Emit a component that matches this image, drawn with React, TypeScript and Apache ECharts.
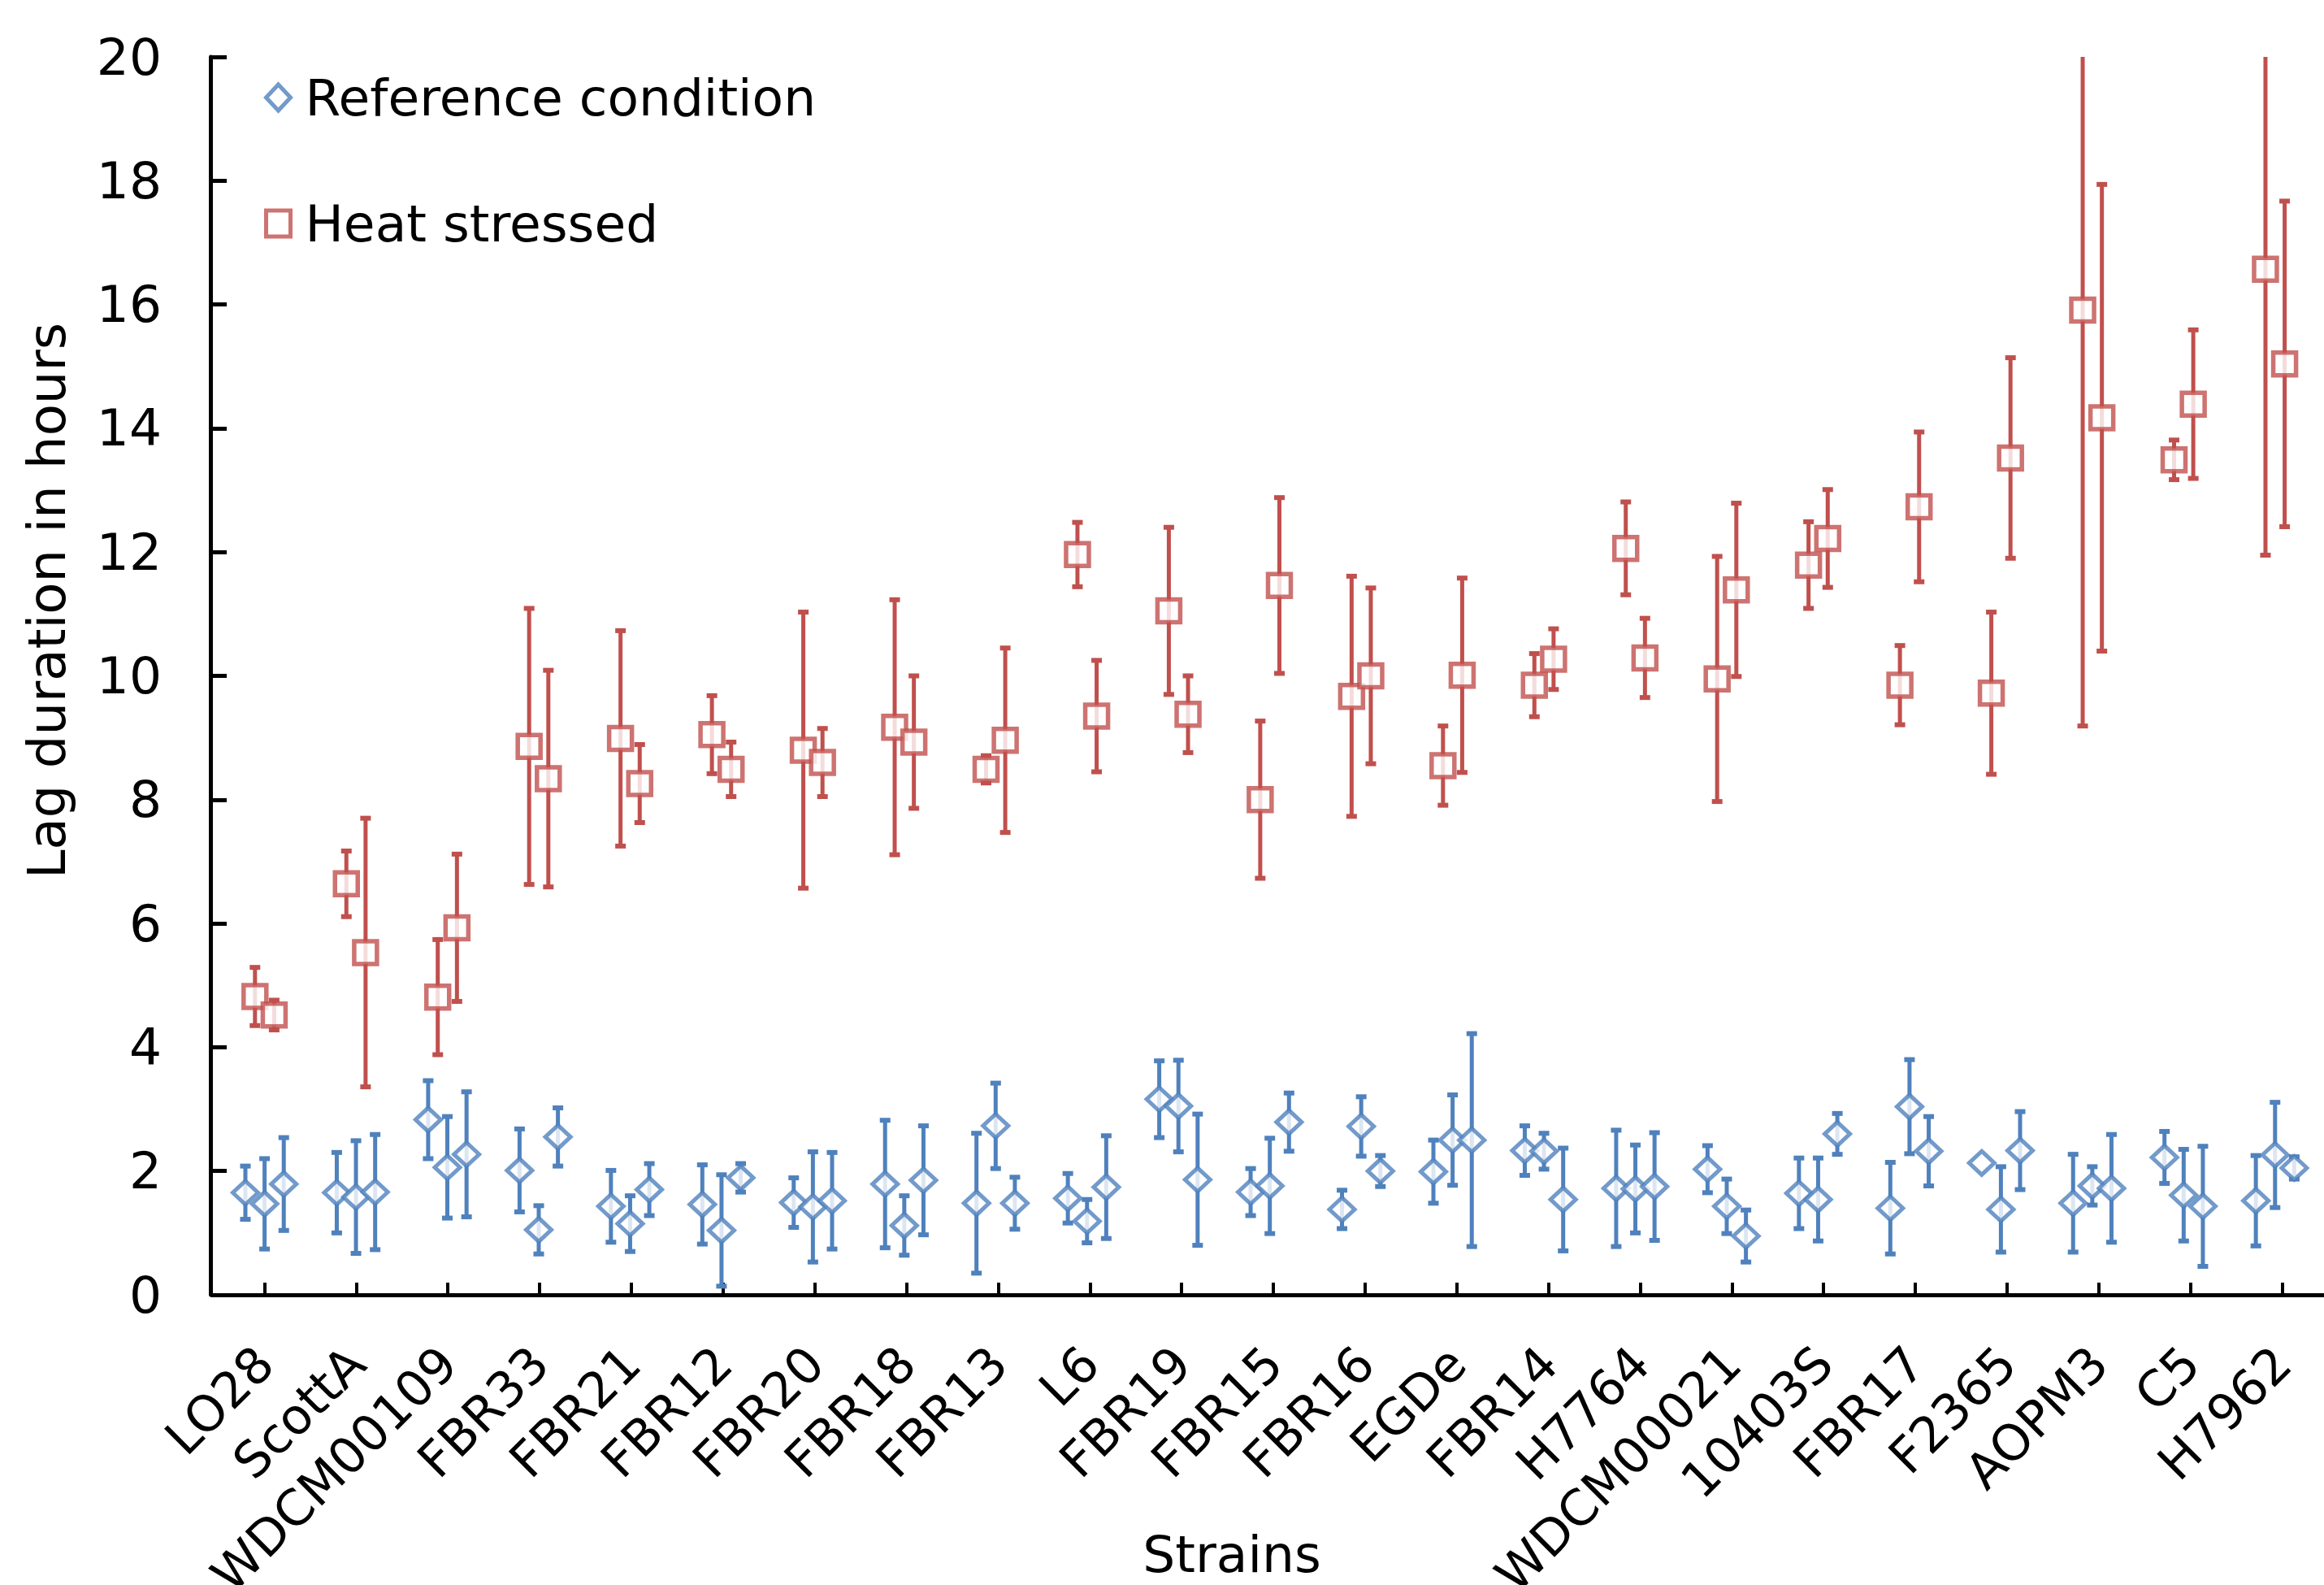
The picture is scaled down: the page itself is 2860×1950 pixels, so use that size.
import React, { useEffect, useRef } from "react";
import * as echarts from "echarts";

const strains = [
  "LO28", "ScottA", "WDCM00109", "FBR33", "FBR21", "FBR12", "FBR20", "FBR18",
  "FBR13", "L6", "FBR19", "FBR15", "FBR16", "EGDe", "FBR14", "H7764",
  "WDCM00021", "10403S", "FBR17", "F2365", "AOPM3", "C5", "H7962",
];

// Reference condition: three replicates per strain (mean, +/- error)
const referenceMeans = [
  [1.65, 1.47, 1.79], [1.65, 1.58, 1.66], [2.83, 2.06, 2.27], [2.01, 1.05, 2.55],
  [1.43, 1.15, 1.70], [1.46, 1.04, 1.89], [1.49, 1.42, 1.52], [1.79, 1.12, 1.85],
  [1.48, 2.73, 1.48], [1.56, 1.19, 1.74], [3.16, 3.05, 1.86], [1.66, 1.76, 2.79],
  [1.38, 2.72, 2.00], [1.99, 2.50, 2.50], [2.33, 2.32, 1.54], [1.72, 1.71, 1.75],
  [2.03, 1.43, 0.95], [1.64, 1.54, 2.60], [1.40, 3.04, 2.32], [2.13, 1.38, 2.33],
  [1.48, 1.76, 1.72], [2.22, 1.61, 1.43], [1.52, 2.26, 2.05],
];
const referenceErrors = [
  [0.43, 0.73, 0.75], [0.65, 0.91, 0.93], [0.63, 0.82, 1.01], [0.67, 0.39, 0.47],
  [0.58, 0.45, 0.42], [0.64, 0.90, 0.23], [0.40, 0.89, 0.78], [1.03, 0.48, 0.88],
  [1.13, 0.69, 0.42], [0.40, 0.35, 0.83], [0.62, 0.74, 1.06], [0.38, 0.77, 0.47],
  [0.31, 0.48, 0.25], [0.51, 0.73, 1.72], [0.40, 0.29, 0.83], [0.94, 0.71, 0.87],
  [0.38, 0.44, 0.42], [0.57, 0.67, 0.33], [0.74, 0.76, 0.56], [0.00, 0.69, 0.63],
  [0.79, 0.31, 0.87], [0.42, 0.74, 0.97], [0.73, 0.85, 0.18],
];

// Heat stressed: two replicates per strain (mean, +/- error)
const heatMeans = [
  [4.82, 4.52], [6.64, 5.53], [4.81, 5.93], [8.86, 8.34], [8.99, 8.26],
  [9.05, 8.49], [8.80, 8.60], [9.17, 8.93], [8.49, 8.96], [11.96, 9.35],
  [11.05, 9.38], [8.00, 11.46], [9.67, 10.00], [8.55, 10.01], [9.85, 10.27],
  [12.06, 10.29], [9.95, 11.39], [11.79, 12.22], [9.85, 12.73], [9.72, 13.52],
  [15.91, 14.17], [13.49, 14.39], [16.57, 15.04],
];
const heatErrors = [
  [0.47, 0.24], [0.53, 2.17], [0.93, 1.19], [2.23, 1.75], [1.74, 0.63],
  [0.63, 0.44], [2.23, 0.55], [2.06, 1.07], [0.22, 1.49], [0.52, 0.90],
  [1.35, 0.62], [1.27, 1.42], [1.94, 1.42], [0.64, 1.57], [0.51, 0.49],
  [0.75, 0.64], [1.98, 1.40], [0.70, 0.79], [0.64, 1.21], [1.31, 1.62],
  [6.72, 3.77], [0.32, 1.20], [4.62, 2.63],
];

const Y_MIN = 0;
const Y_MAX = 20;
const Y_INTERVAL = 2;

const BLUE = "#4F81BD";
const RED = "#C0504D";
const FONT = "DejaVu Sans";

const REF_OFFSETS = [-0.21, 0, 0.21];
const HEAT_OFFSETS = [-0.105, 0.105];

function buildPoints(means: number[][], offsets: number[]) {
  const pts: number[][] = [];
  means.forEach((row, i) => {
    row.forEach((m, j) => pts.push([i + offsets[j], m]));
  });
  return pts;
}

function buildBars(means: number[][], errs: number[][], offsets: number[]) {
  const bars: number[][] = [];
  means.forEach((row, i) => {
    row.forEach((m, j) => {
      const e = errs[i][j];
      if (e > 0) bars.push([i + offsets[j], m - e, m + e]);
    });
  });
  return bars;
}

function errorBarRenderer(color: string) {
  return (params: any, api: any) => {
    const x = api.value(0);
    const lo = api.value(1);
    const hi = api.value(2);
    const cs = params.coordSys;
    const pLo = api.coord([x, lo]);
    const pHi = api.coord([x, hi]);
    const top = cs.y;
    const bottom = cs.y + cs.height;
    const yHi = Math.max(pHi[1], top);
    const yLo = Math.min(pLo[1], bottom);
    const children: any[] = [
      {
        type: "line",
        shape: { x1: pHi[0], y1: yHi, x2: pLo[0], y2: yLo },
        style: { stroke: color, lineWidth: 5 },
      },
    ];
    if (pHi[1] >= top) {
      children.push({
        type: "rect",
        shape: { x: pHi[0] - 6.5, y: pHi[1] - 3, width: 13, height: 6 },
        style: { fill: color },
      });
    }
    if (pLo[1] <= bottom) {
      children.push({
        type: "rect",
        shape: { x: pLo[0] - 6.5, y: pLo[1] - 3, width: 13, height: 6 },
        style: { fill: color },
      });
    }
    return { type: "group", children };
  };
}

export default function App() {
  const ref = useRef<HTMLDivElement>(null);

  useEffect(() => {
    if (!ref.current) return;
    const chart = echarts.init(ref.current, null, { renderer: "svg" });

    const option: any = {
      animation: false,
      backgroundColor: "#ffffff",
      textStyle: { fontFamily: FONT },
      grid: {
        left: 269,
        top: 70,
        width: 2596,
        height: 1523,
        containLabel: false,
        outerBoundsMode: "none",
      },
      legend: {
        orient: "vertical",
        left: 320,
        top: 82,
        itemWidth: 30,
        itemHeight: 32,
        itemGap: 89,
        symbolKeepAspect: false,
        selectedMode: false,
        textStyle: {
          fontFamily: FONT,
          fontSize: 63,
          lineHeight: 66,
          color: "#000",
          padding: [0, 0, 0, 13],
        },
        data: [
          {
            name: "Reference condition",
            icon: "diamond",
            itemStyle: { color: "#fff", borderColor: BLUE, borderWidth: 5 },
          },
          {
            name: "Heat stressed",
            icon: "rect",
            itemStyle: { color: "#fff", borderColor: RED, borderWidth: 5 },
          },
        ],
      },
      xAxis: [
        {
          type: "category",
          data: strains,
          boundaryGap: true,
          axisLine: { show: true, onZero: false, lineStyle: { color: "#000", width: 5 } },
          axisTick: {
            show: true,
            inside: true,
            alignWithLabel: true,
            length: 15,
            lineStyle: { color: "#000", width: 4 },
          },
          axisLabel: {
            interval: 0,
            rotate: 45,
            margin: 74,
            fontSize: 61,
            fontFamily: FONT,
            color: "#000",
          },
          splitLine: { show: false },
        },
        {
          type: "value",
          min: -0.5033,
          max: 22.58,
          show: false,
          splitLine: { show: false },
        },
      ],
      yAxis: {
        type: "value",
        min: Y_MIN,
        max: Y_MAX,
        interval: Y_INTERVAL,
        offset: 10,
        axisLine: { show: true, onZero: false, lineStyle: { color: "#000", width: 5 } },
        axisTick: {
          show: true,
          inside: true,
          length: 20,
          lineStyle: { color: "#000", width: 5 },
        },
        axisLabel: {
          margin: 60,
          fontSize: 63,
          fontFamily: FONT,
          color: "#000",
        },
        splitLine: { show: false },
      },
      graphic: [
        {
          type: "text",
          x: 58,
          y: 739,
          rotation: Math.PI / 2,
          style: {
            text: "Lag duration in hours",
            fontSize: 64,
            fontFamily: FONT,
            fill: "#000",
            textAlign: "center",
            textVerticalAlign: "middle",
          },
        },
        {
          type: "text",
          x: 1516,
          y: 1912,
          style: {
            text: "Strains",
            fontSize: 63,
            fontFamily: FONT,
            fill: "#000",
            textAlign: "center",
            textVerticalAlign: "middle",
          },
        },
      ],
      series: [
        {
          name: "Heat stressed error",
          type: "custom",
          xAxisIndex: 1,
          renderItem: errorBarRenderer(RED),
          data: buildBars(heatMeans, heatErrors, HEAT_OFFSETS),
          z: 2,
          silent: true,
        },
        {
          name: "Reference condition error",
          type: "custom",
          xAxisIndex: 1,
          renderItem: errorBarRenderer(BLUE),
          data: buildBars(referenceMeans, referenceErrors, REF_OFFSETS),
          z: 2,
          silent: true,
        },
        {
          name: "Reference condition",
          type: "scatter",
          xAxisIndex: 1,
          symbol: "diamond",
          symbolSize: [31, 29],
          itemStyle: { color: "#fff", borderColor: BLUE, borderWidth: 5 },
          data: buildPoints(referenceMeans, REF_OFFSETS),
          z: 4,
        },
        {
          name: "Heat stressed",
          type: "scatter",
          xAxisIndex: 1,
          symbol: "rect",
          symbolSize: 28,
          itemStyle: { color: "#fff", borderColor: RED, borderWidth: 5.5 },
          data: buildPoints(heatMeans, HEAT_OFFSETS),
          z: 4,
        },
      ],
    };

    chart.setOption(option);
    return () => chart.dispose();
  }, []);

  return (
    <div
      ref={ref}
      style={{ position: "fixed", left: 0, top: 0, width: 2860, height: 1950, background: "#fff" }}
    />
  );
}
